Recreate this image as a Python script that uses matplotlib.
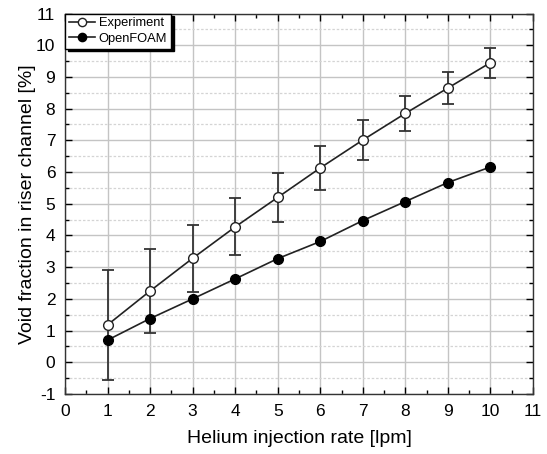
import matplotlib
matplotlib.use("Agg")
import matplotlib.pyplot as plt
from matplotlib.ticker import MultipleLocator

rate = [1, 2, 3, 4, 5, 6, 7, 8, 9, 10]
experiment = [1.18, 2.25, 3.28, 4.27, 5.2, 6.13, 7.01, 7.85, 8.65, 9.45]
exp_err = [1.74, 1.33, 1.06, 0.9, 0.78, 0.7, 0.62, 0.55, 0.5, 0.47]
openfoam = [0.70, 1.38, 2.0, 2.63, 3.27, 3.81, 4.47, 5.07, 5.67, 6.16]

plt.rcParams['font.family'] = ['Liberation Sans', 'DejaVu Sans']
plt.rcParams['axes.unicode_minus'] = False

fig = plt.figure(figsize=(5.47, 4.54), dpi=100)
ax = fig.add_axes([65/547, 1-394/454, (533-65)/547, (394-13.5)/454])

ax.set_xlim(0, 11)
ax.set_ylim(-1, 11)
ax.xaxis.set_major_locator(MultipleLocator(1))
ax.xaxis.set_minor_locator(MultipleLocator(0.5))
ax.yaxis.set_major_locator(MultipleLocator(1))
ax.yaxis.set_minor_locator(MultipleLocator(0.5))

ax.grid(which='major', color='#c4c4c4', linewidth=1.0, linestyle='-')
ax.yaxis.grid(which='minor', color='#d4d4d4', linewidth=0.9, linestyle=(0, (2, 1.5)))
ax.set_axisbelow(True)

ax.tick_params(which='both', direction='in', top=True, right=True, labelsize=12.5,
               colors='black', pad=7)
ax.tick_params(which='major', length=5, width=1.0)
ax.tick_params(which='minor', length=3, width=1.0)
for s in ax.spines.values():
    s.set_color('#333333')
    s.set_linewidth(1.0)

ax.errorbar(rate, experiment, yerr=exp_err, fmt='none', ecolor='#333333',
            elinewidth=1.3, capsize=4, capthick=1.3, zorder=2)
ax.plot(rate, experiment, '-o', color='#222222', linewidth=1.2, markersize=7,
        markerfacecolor='white', markeredgecolor='#222222', markeredgewidth=1.0,
        label='Experiment', zorder=3)
ax.plot(rate, openfoam, '-o', color='#222222', linewidth=1.2, markersize=7,
        markerfacecolor='black', markeredgecolor='black', label='OpenFOAM', zorder=3)

leg = ax.legend(loc='upper left', fontsize=9.3, frameon=True, fancybox=False,
                shadow={'color': 'black', 'alpha': 1}, borderpad=0.3, labelspacing=0.25,
                handlelength=2.0, handletextpad=0.3, borderaxespad=0.0, markerscale=0.85)
leg.get_frame().set_edgecolor('black')
leg.get_frame().set_linewidth(1.0)

ax.set_xlabel('Helium injection rate [lpm]', fontsize=14, labelpad=8)
ax.set_ylabel('Void fraction in riser channel [%]', fontsize=14, labelpad=0)

fig.savefig('out.png', dpi=100)
